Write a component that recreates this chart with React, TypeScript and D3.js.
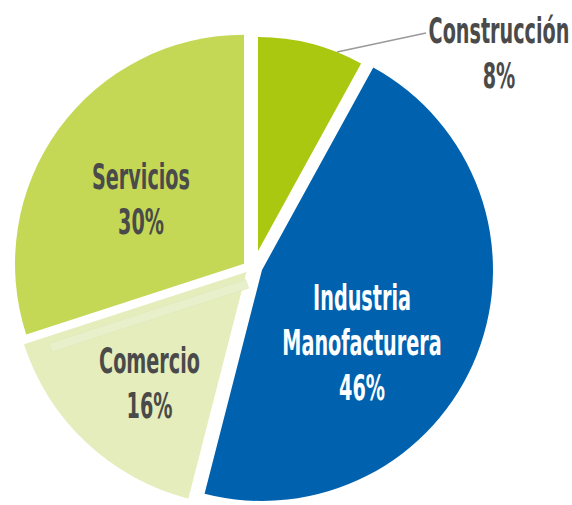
import React, { useEffect, useRef } from 'react';
import * as d3 from 'd3';

// sector data, clockwise from 12 o'clock
const sectors = ['Construcción', 'Industria Manofacturera', 'Comercio', 'Servicios'];
const shares = [8, 46, 16, 30];
const labelLines = [['Construcción', '8%'], ['Industria', 'Manofacturera', '46%'], ['Comercio', '16%'], ['Servicios', '30%']];

const colors = ['#a9c80f', '#0062ae', '#e4edbb', '#c4d856'];
const textColors = ['#4a4a4a', '#ffffff', '#4a4a4a', '#4a4a4a'];

// each wedge is pulled a little away from the centre, with its own radius
const explode = [
  { dx: 7, dy: -15, r: 214 },
  { dx: 11, dy: 4, r: 231 },
  { dx: -4.5, dy: 6, r: 234 },
  { dx: -7, dy: -2.3, r: 229 }
];
const labelPos = [
  { x: 499, y: 43 },
  { x: 362, y: 310 },
  { x: 149.5, y: 373 },
  { x: 141, y: 189 }
];

const App: React.FC = () => {
  const svgRef = useRef<SVGSVGElement>(null);

  useEffect(() => {
    if (!svgRef.current) return;
    const svg = d3.select(svgRef.current);
    svg.selectAll('*').remove();

    const width = 572;
    const height = 505;
    const cx = 251;
    const cy = 266;
    const lineGap = 45;

    svg.attr('width', width).attr('height', height);

    const pie = d3.pie<number>().sort(null).value(d => d);
    const arcs = pie(shares);

    const slices = svg
      .selectAll('g.slice')
      .data(arcs)
      .enter()
      .append('g')
      .attr('class', 'slice')
      .attr('transform', (d, i) => `translate(${cx + explode[i].dx},${cy + explode[i].dy})`);

    slices
      .append('path')
      .attr('d', (d, i) => d3.arc<d3.PieArcDatum<number>>().innerRadius(0).outerRadius(explode[i].r)(d) as string)
      .attr('fill', (d, i) => colors[i]);

    // faint highlight strip along the top edge of Comercio
    const com = arcs[2];
    const a = com.endAngle;
    const along = (t: number, o: number): [number, number] => {
      const ux = Math.sin(a), uy = -Math.cos(a);
      const px = Math.sin(a - Math.PI / 2), py = -Math.cos(a - Math.PI / 2);
      return [t * ux + o * px, t * uy + o * py];
    };
    const strip = [along(3, 7), along(210, 7), along(210, 16), along(3, 16)];
    d3.select(slices.nodes()[2])
      .append('polygon')
      .attr('points', strip.map(p => p.join(',')).join(' '))
      .attr('fill', '#e8efcb')
      .attr('stroke', '#dfe8b8')
      .attr('stroke-width', 0.6);

    // leader line for Construcción
    svg
      .append('line')
      .attr('x1', 337)
      .attr('y1', 52)
      .attr('x2', 426)
      .attr('y2', 33)
      .attr('stroke', '#9a9a9a')
      .attr('stroke-width', 1.6);

    labelLines.forEach((lines, i) => {
      const g = svg
        .append('g')
        .attr('transform', `translate(${labelPos[i].x},${labelPos[i].y}) scale(0.61,1)`);
      lines.forEach((ln, j) => {
        g.append('text')
          .attr('x', 0)
          .attr('y', j * lineGap)
          .attr('text-anchor', 'middle')
          .attr('fill', textColors[i])
          .style('font-family', '"DejaVu Sans Condensed", sans-serif')
          .style('font-weight', 'bold')
          .style('font-size', '35px')
          .text(ln);
      });
    });
  }, []);

  return (
    <svg
      ref={svgRef}
      style={{ position: 'absolute', left: 0, top: 0, display: 'block' }}
      aria-label={sectors.join(', ')}
    ></svg>
  );
};

export default App;
